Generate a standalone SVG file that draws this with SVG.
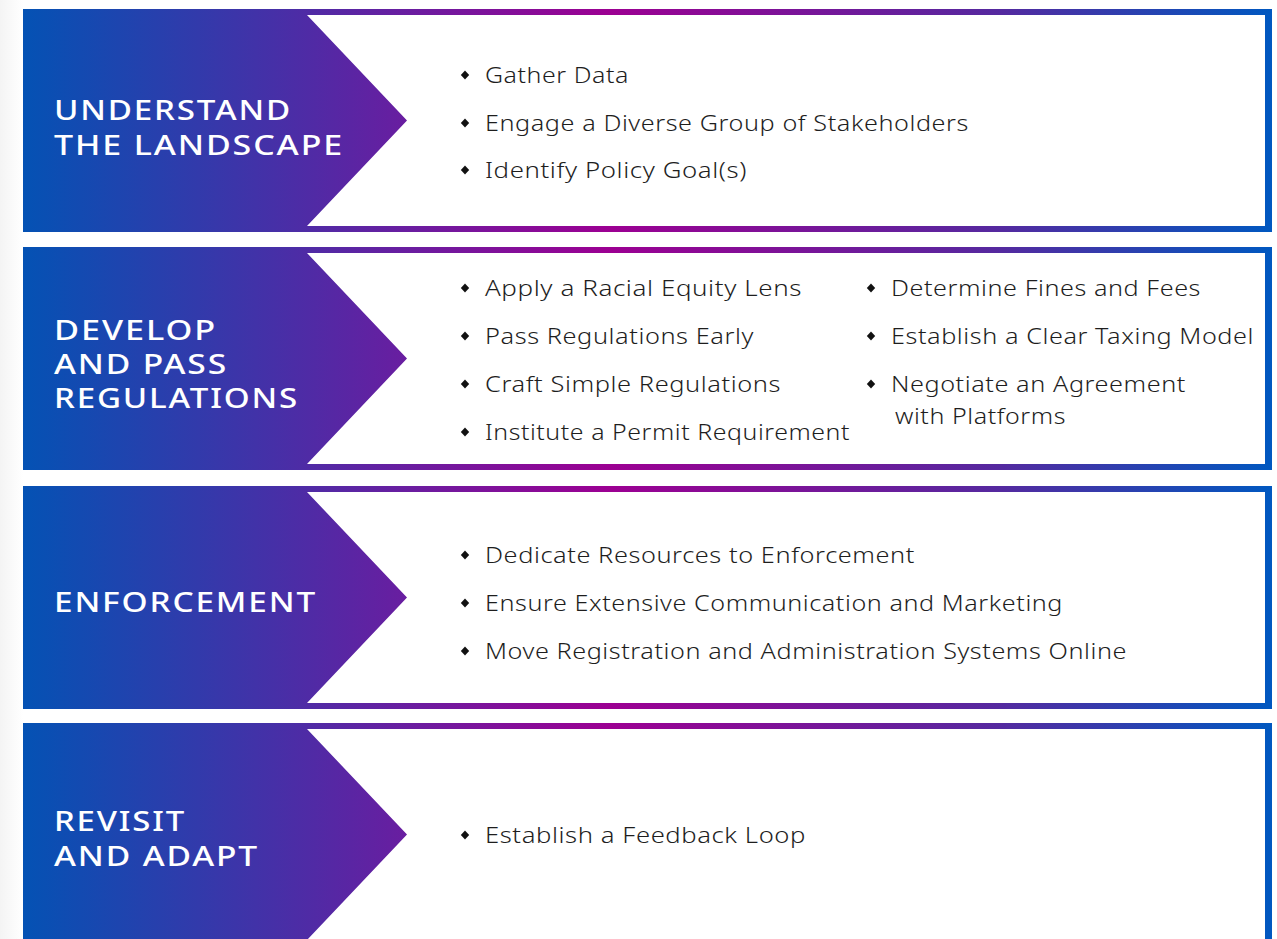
<svg xmlns="http://www.w3.org/2000/svg" width="1277" height="939" viewBox="0 0 1277 939">
<defs>
<linearGradient id="g" gradientUnits="userSpaceOnUse" x1="23" y1="0" x2="1272" y2="0">
<stop offset="0" stop-color="#0452b4"/>
<stop offset="0.31" stop-color="#6a1da0"/>
<stop offset="0.47" stop-color="#9c0092"/>
<stop offset="0.78" stop-color="#55299f"/>
<stop offset="1" stop-color="#0058c0"/>
</linearGradient>
<linearGradient id="bg" x1="0" y1="0" x2="1" y2="0">
<stop offset="0" stop-color="#f4f4f4"/>
<stop offset="1" stop-color="#ffffff"/>
</linearGradient>
<polygon id="dia" points="0,-4.5 4.2,0 0,4.5 -4.2,0"/>
</defs>
<style>
.frame{fill:url(#g)}
.inner{fill:#ffffff}
.head{font-family:"Noto Sans","Liberation Sans",sans-serif;font-size:27px;font-weight:500;letter-spacing:1.5px;fill:#ffffff}
.item{font-family:"Noto Sans","Liberation Sans",sans-serif;font-size:22px;font-weight:300;letter-spacing:0.5px;fill:#1e1e1e}
.dot{fill:#111111}
</style>
<rect x="0" y="0" width="1277" height="939" fill="#ffffff"/>
<rect x="0" y="0" width="23" height="939" fill="url(#bg)"/>

<g id="panel-understand">
<rect class="frame" x="23" y="9" width="1249" height="223"/>
<polygon class="inner" points="307,15 1265,15 1265,226 307,226 407,120.5"/>
<text class="head" x="54" y="120" textLength="238" lengthAdjust="spacingAndGlyphs">UNDERSTAND</text>
<text class="head" x="54" y="155" textLength="290" lengthAdjust="spacingAndGlyphs">THE LANDSCAPE</text>
<use href="#dia" class="dot" x="465" y="75"/>
<text class="item" x="485" y="83" textLength="144" lengthAdjust="spacingAndGlyphs">Gather Data</text>
<use href="#dia" class="dot" x="465" y="123"/>
<text class="item" x="485" y="131" textLength="484" lengthAdjust="spacingAndGlyphs">Engage a Diverse Group of Stakeholders</text>
<use href="#dia" class="dot" x="465" y="170"/>
<text class="item" x="485" y="178" textLength="262" lengthAdjust="spacingAndGlyphs">Identify Policy Goal(s)</text>
</g>

<g id="panel-develop">
<rect class="frame" x="23" y="247" width="1249" height="223"/>
<polygon class="inner" points="307,253 1265,253 1265,464 307,464 407,358.5"/>
<text class="head" x="54" y="340" textLength="163" lengthAdjust="spacingAndGlyphs">DEVELOP</text>
<text class="head" x="54" y="374" textLength="174" lengthAdjust="spacingAndGlyphs">AND PASS</text>
<text class="head" x="54" y="408" textLength="245" lengthAdjust="spacingAndGlyphs">REGULATIONS</text>
<use href="#dia" class="dot" x="465" y="288"/>
<text class="item" x="485" y="296" textLength="317" lengthAdjust="spacingAndGlyphs">Apply a Racial Equity Lens</text>
<use href="#dia" class="dot" x="465" y="336"/>
<text class="item" x="485" y="344" textLength="269" lengthAdjust="spacingAndGlyphs">Pass Regulations Early</text>
<use href="#dia" class="dot" x="465" y="384"/>
<text class="item" x="485" y="392" textLength="296" lengthAdjust="spacingAndGlyphs">Craft Simple Regulations</text>
<use href="#dia" class="dot" x="465" y="432"/>
<text class="item" x="485" y="440" textLength="365" lengthAdjust="spacingAndGlyphs">Institute a Permit Requirement</text>
<use href="#dia" class="dot" x="871" y="288"/>
<text class="item" x="891" y="296" textLength="310" lengthAdjust="spacingAndGlyphs">Determine Fines and Fees</text>
<use href="#dia" class="dot" x="871" y="336"/>
<text class="item" x="891" y="344" textLength="363" lengthAdjust="spacingAndGlyphs">Establish a Clear Taxing Model</text>
<use href="#dia" class="dot" x="871" y="384"/>
<text class="item" x="891" y="392" textLength="295" lengthAdjust="spacingAndGlyphs">Negotiate an Agreement</text>
<text class="item" x="895" y="424" textLength="171" lengthAdjust="spacingAndGlyphs">with Platforms</text>
</g>

<g id="panel-enforcement">
<rect class="frame" x="23" y="486" width="1249" height="223"/>
<polygon class="inner" points="307,492 1265,492 1265,703 307,703 407,597.5"/>
<text class="head" x="54" y="612" textLength="263" lengthAdjust="spacingAndGlyphs">ENFORCEMENT</text>
<use href="#dia" class="dot" x="465" y="555"/>
<text class="item" x="485" y="563" textLength="430" lengthAdjust="spacingAndGlyphs">Dedicate Resources to Enforcement</text>
<use href="#dia" class="dot" x="465" y="603"/>
<text class="item" x="485" y="611" textLength="578" lengthAdjust="spacingAndGlyphs">Ensure Extensive Communication and Marketing</text>
<use href="#dia" class="dot" x="465" y="651"/>
<text class="item" x="485" y="659" textLength="642" lengthAdjust="spacingAndGlyphs">Move Registration and Administration Systems Online</text>
</g>

<g id="panel-revisit">
<rect class="frame" x="23" y="723" width="1249" height="223"/>
<polygon class="inner" points="307,729 1265,729 1265,940 307,940 407,834.5"/>
<text class="head" x="54" y="831" textLength="132" lengthAdjust="spacingAndGlyphs">REVISIT</text>
<text class="head" x="54" y="866" textLength="205" lengthAdjust="spacingAndGlyphs">AND ADAPT</text>
<use href="#dia" class="dot" x="465" y="835"/>
<text class="item" x="485" y="843" textLength="321" lengthAdjust="spacingAndGlyphs">Establish a Feedback Loop</text>
</g>
</svg>
